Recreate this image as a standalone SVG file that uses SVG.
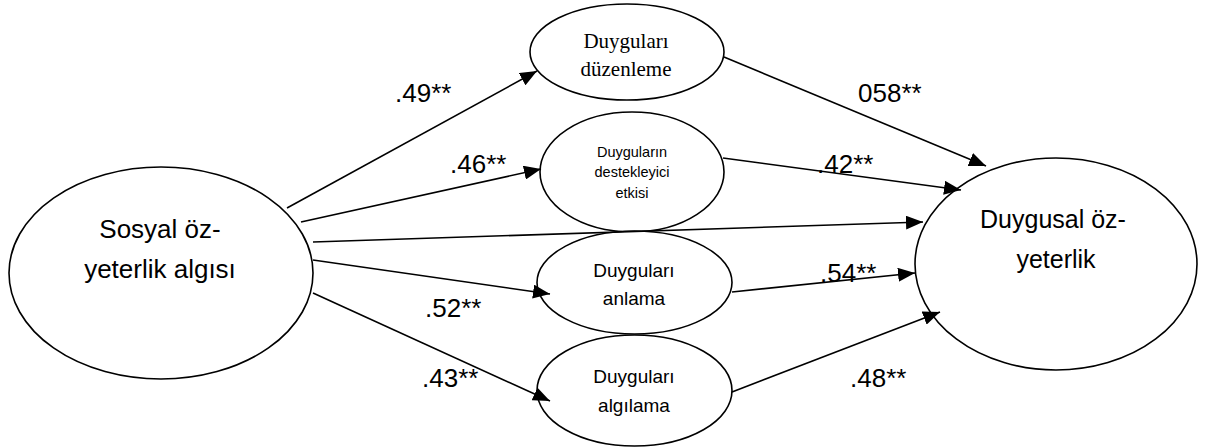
<svg xmlns="http://www.w3.org/2000/svg" width="1206" height="448" viewBox="0 0 1206 448">
<style>
.node ellipse{fill:#fff;stroke:#000;stroke-width:1.6}
.conn line{stroke:#000;stroke-width:1.6;marker-end:url(#arr)}
text{fill:#000;text-anchor:middle}
.sans{font-family:"Liberation Sans","Open Sans",sans-serif}
.serif{font-family:"Liberation Serif",serif}
.lbl{font-family:"Liberation Sans","Open Sans",sans-serif;font-size:26px;text-anchor:start}
</style>
<defs>
<marker id="arr" markerUnits="userSpaceOnUse" markerWidth="18" markerHeight="14" refX="17" refY="7" orient="auto">
<path d="M0,0 L17,7 L0,14 z" fill="#000"/>
</marker>
</defs>
<rect width="1206" height="448" fill="#fff"/>
<g id="n-sosyal" class="node">
<ellipse cx="161" cy="273" rx="152" ry="106"/>
<text class="sans" font-size="26" x="160" y="238">Sosyal öz-</text>
<text class="sans" font-size="26" x="160" y="278">yeterlik algısı</text>
</g>
<g id="n-duzenleme" class="node">
<ellipse cx="627" cy="52" rx="97" ry="48"/>
<text class="serif" font-size="21" x="626" y="48">Duyguları</text>
<text class="serif" font-size="21" x="626" y="76">düzenleme</text>
</g>
<g id="n-destekleyici" class="node">
<ellipse cx="632" cy="172" rx="92" ry="60"/>
<text class="sans" font-size="14.5" x="632" y="157">Duyguların</text>
<text class="sans" font-size="14.5" x="632" y="177">destekleyici</text>
<text class="sans" font-size="14.5" x="632" y="198">etkisi</text>
</g>
<g id="n-anlama" class="node">
<ellipse cx="634.5" cy="282.5" rx="97.5" ry="51.5"/>
<text class="sans" font-size="19" x="634" y="277">Duyguları</text>
<text class="sans" font-size="19" x="634" y="305">anlama</text>
</g>
<g id="n-algilama" class="node">
<ellipse cx="634.5" cy="390.5" rx="97.5" ry="55.5"/>
<text class="sans" font-size="19" x="634" y="383">Duyguları</text>
<text class="sans" font-size="19" x="634" y="412">algılama</text>
</g>
<g id="n-duygusal" class="node">
<ellipse cx="1056" cy="264" rx="141" ry="106"/>
<text class="sans" font-size="25" x="1053" y="228">Duygusal öz-</text>
<text class="sans" font-size="25" x="1056" y="268">yeterlik</text>
</g>
<g id="connectors" class="conn">
<line x1="287" y1="208" x2="537" y2="71"/>
<line x1="301" y1="222" x2="541" y2="169"/>
<line x1="313" y1="242" x2="923" y2="222"/>
<line x1="313" y1="260" x2="550" y2="294"/>
<line x1="313" y1="293" x2="550" y2="401"/>
<line x1="724" y1="57" x2="986" y2="166"/>
<line x1="723" y1="158" x2="961" y2="190"/>
<line x1="732" y1="292" x2="915" y2="273"/>
<line x1="732" y1="392" x2="940" y2="312"/>
</g>
<g id="labels">
<text class="lbl" x="395" y="102">.49**</text>
<text class="lbl" x="450" y="173">.46**</text>
<text class="lbl" x="858" y="102">058**</text>
<text class="lbl" x="817" y="173">.42**</text>
<text class="lbl" x="820" y="282">.54**</text>
<text class="lbl" x="425" y="317">.52**</text>
<text class="lbl" x="422" y="387">.43**</text>
<text class="lbl" x="850" y="387">.48**</text>
</g>
</svg>
